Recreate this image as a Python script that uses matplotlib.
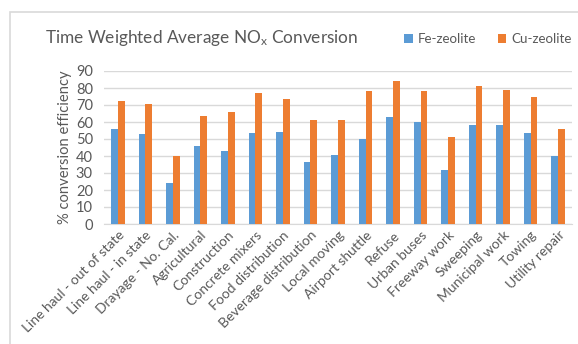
import matplotlib
matplotlib.use("Agg")
import matplotlib.pyplot as plt
import matplotlib.patches as patches
import numpy as np

categories = ["Line haul - out of state", "Line haul - in state", "Drayage - No. Cal.",
              "Agricultural", "Construction", "Concrete mixers", "Food distribution",
              "Beverage distribution", "Local moving", "Airport shuttle", "Refuse",
              "Urban buses", "Freeway work", "Sweeping", "Municipal work", "Towing",
              "Utility repair"]
fe_zeolite = [56, 53, 24, 46, 43, 53.7, 54.3, 36.5, 40.7, 50.2, 63.1, 60.2, 31.6, 58.2, 58.2, 53.7, 40]
cu_zeolite = [72.5, 70.5, 40, 63.7, 66, 76.8, 73.3, 61.3, 61, 78.1, 84, 78.5, 51.4, 81.4, 79.1, 74.6, 56]
yticks = list(range(0, 100, 10))

plt.rcParams["font.family"] = ["Lato", "DejaVu Sans"]
plt.rcParams["mathtext.default"] = "regular"
text_color = "#595959"
grid_color = "#D9D9D9"
blue = "#5B9BD5"
orange = "#ED7D31"

fig = plt.figure(figsize=(5.78, 3.44), dpi=100)
ax = fig.add_axes([104 / 578, 1 - 224 / 344, (572 - 104) / 578, (224 - 71) / 344])

x = np.arange(len(categories))
w = 0.245
ax.bar(x - w / 2, fe_zeolite, w, color=blue, label="Fe-zeolite", zorder=3)
ax.bar(x + w / 2, cu_zeolite, w, color=orange, label="Cu-zeolite", zorder=3)

ax.set_xlim(-0.5, len(categories) - 0.5)
ax.set_ylim(0, 90)
ax.set_yticks(yticks)
ax.yaxis.grid(True, color=grid_color, linewidth=1, zorder=0)
for s in ["top", "right", "left"]:
    ax.spines[s].set_visible(False)
ax.spines["bottom"].set_color(grid_color)
ax.tick_params(axis="both", length=0, colors=text_color, labelsize=10.5)
ax.tick_params(axis="y", pad=8)
ax.set_xticks(x)
ax.set_xticklabels(categories, rotation=45, ha="right", rotation_mode="anchor", fontsize=10)
ax.set_ylabel("% conversion efficiency", color=text_color, fontsize=10.6, labelpad=3)

fig.text(45 / 578, 1 - 38 / 344, "Time Weighted Average NO$_x$ Conversion",
         color=text_color, fontsize=12.4, va="center", ha="left")
fig.legend(loc="center left", bbox_to_anchor=(392 / 578, 1 - 39 / 344), ncol=2,
           frameon=False, fontsize=9.6, labelcolor=text_color, handlelength=0.65,
           handleheight=0.65, handletextpad=0.4, columnspacing=1.6)

# chart frame
fig.patches.append(patches.Rectangle((10 / 578, -0.1), 1.2, 1 - 12 / 344 + 0.1,
                                     transform=fig.transFigure, fill=False,
                                     edgecolor=grid_color, linewidth=1.2))

fig.savefig("out.png", dpi=100)
